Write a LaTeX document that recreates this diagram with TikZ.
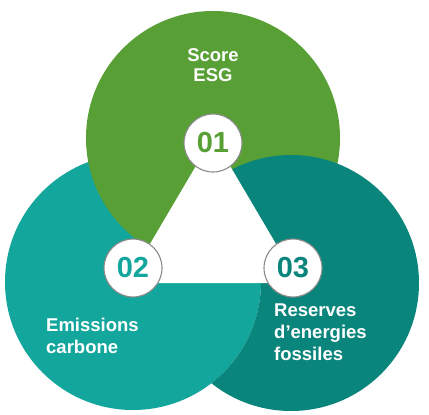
\documentclass[tikz,border=0pt]{standalone}
\usepackage{fontspec}
\setmainfont{Liberation Sans}
\definecolor{cgreen}{HTML}{58A035}
\definecolor{cteal}{HTML}{12A69C}
\definecolor{cdark}{HTML}{0A857B}
\definecolor{cring}{HTML}{8A8A8A}
\begin{document}
\begin{tikzpicture}[x=1pt,y=-1pt,
  numc/.style={circle,fill=white,draw=cring,line width=1.1pt,minimum size=58pt,inner sep=0pt,
    font=\fontsize{29}{29}\selectfont\bfseries},
  lbl/.style={text=white,inner sep=0pt,font=\fontsize{18.5}{22}\selectfont\bfseries}]
\useasboundingbox (0,0) rectangle (429,415);
\fill[white] (0,0) rectangle (429,415);
\coordinate (c1) at (213,138);
\coordinate (c2) at (133,282);
\coordinate (c3) at (291,283);
\fill[cteal] (c2) circle (128pt);
\fill[cgreen] (c1) circle (127pt);
\begin{scope}[even odd rule]
  \clip (-10,-10) rectangle (440,425) (c2) circle (128pt);
  \fill[cdark] (c3) circle (128pt);
\end{scope}
\coordinate (t1) at (213,137);
\coordinate (t2) at (127,283);
\coordinate (t3) at (299,283);
\fill[white] (t1) -- (t2) -- (t3) -- cycle;
\node[numc,text=cgreen] (n1) at (213,143) {01};
\node[numc,text=cteal] (n2) at (133,268) {02};
\node[numc,text=cdark] (n3) at (293,268) {03};
\node[lbl,align=center,anchor=base,font=\fontsize{18.5}{20.5}\selectfont\bfseries] (l1) at (213,81.7) {Score\\ESG};
\node[lbl,align=left,anchor=base west] (l2) at (46,353) {Emissions\\carbone};
\node[lbl,align=left,anchor=base west] (l3) at (274,360.7) {Reserves\\d’energies\\fossiles};
\end{tikzpicture}
\end{document}
